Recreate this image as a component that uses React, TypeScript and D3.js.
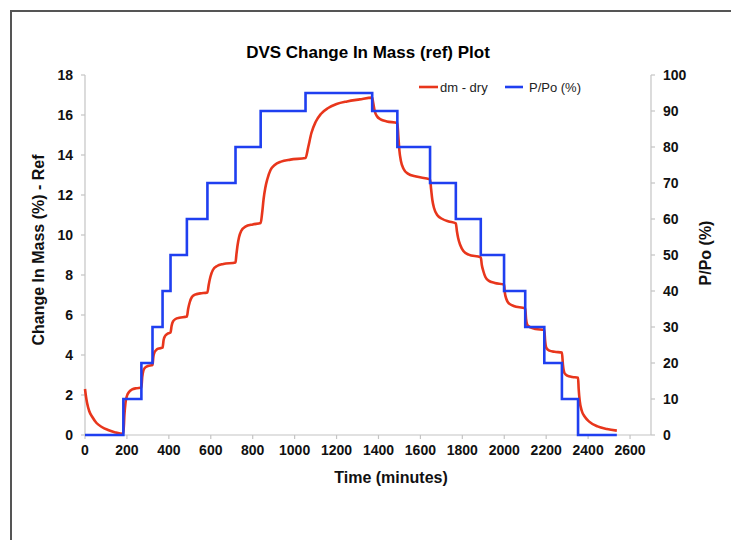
import React from "react";
import * as d3 from "d3";

// P/Po (%) step profile: time (min) at which each step begins, and its value
const stepTimes = [0, 183, 269, 322, 370, 408, 486, 584, 718, 838, 1052, 1370, 1490, 1646, 1769, 1888, 1999, 2100, 2191, 2275, 2352, 2537];
const stepValues = [0, 10, 20, 30, 40, 50, 60, 70, 80, 90, 95, 90, 80, 70, 60, 50, 40, 30, 20, 10, 0, 0];

// dm - dry (%) curve
const massTimes = [
  0, 5, 10, 20, 35, 55, 80, 110, 145, 183,
  188, 193, 200, 210, 225, 245, 269,
  273, 278, 285, 300, 322,
  326, 332, 342, 355, 370,
  375, 382, 392, 408,
  413, 420, 432, 450, 486,
  492, 500, 510, 525, 550, 584,
  590, 598, 610, 630, 660, 718,
  722, 728, 735, 745, 765, 800, 838,
  845, 852, 860, 870, 885, 905, 935, 980, 1052,
  1065, 1080, 1100, 1125, 1160, 1200, 1250, 1310, 1370,
  1375, 1382, 1392, 1410, 1440, 1490,
  1495, 1500, 1507, 1520, 1540, 1580, 1646,
  1651, 1657, 1665, 1680, 1705, 1735, 1769,
  1774, 1780, 1790, 1805, 1830, 1888,
  1893, 1900, 1910, 1925, 1955, 1999,
  2003, 2010, 2022, 2045, 2100,
  2104, 2110, 2125, 2150, 2191,
  2195, 2201, 2215, 2240, 2275,
  2280, 2287, 2300, 2325, 2352,
  2355, 2360, 2370, 2385, 2405, 2445, 2490, 2537,
];
const massValues = [
  2.3, 1.9, 1.6, 1.2, 0.9, 0.6, 0.4, 0.25, 0.13, 0.06,
  1.0, 1.6, 1.95, 2.15, 2.28, 2.34, 2.37,
  2.9, 3.2, 3.35, 3.45, 3.5,
  3.9, 4.15, 4.27, 4.33, 4.37,
  4.75, 4.95, 5.05, 5.12,
  5.45, 5.68, 5.8, 5.86, 5.92,
  6.3, 6.65, 6.9, 7.02, 7.08, 7.13,
  7.5, 7.9, 8.25, 8.45, 8.55, 8.63,
  9.0, 9.5, 9.9, 10.2, 10.42, 10.53, 10.6,
  11.1, 11.8, 12.35, 12.8, 13.25, 13.5, 13.67, 13.77, 13.85,
  14.4, 15.1, 15.65, 16.05, 16.35, 16.55, 16.68, 16.78, 16.87,
  16.6, 16.2, 15.95, 15.78, 15.68, 15.6,
  14.9, 14.2, 13.7, 13.3, 13.07, 12.92, 12.78,
  12.3, 11.75, 11.35, 11.0, 10.8, 10.68, 10.58,
  10.2, 9.85, 9.5, 9.2, 9.02, 8.88,
  8.5, 8.2, 7.9, 7.72, 7.6, 7.52,
  7.1, 6.8, 6.58, 6.45, 6.33,
  5.8, 5.5, 5.38, 5.3, 5.25,
  4.7, 4.35, 4.22, 4.16, 4.12,
  3.5, 3.1, 2.97, 2.9, 2.86,
  2.3, 1.7, 1.2, 0.9, 0.67, 0.43, 0.3, 0.22,
];

const xTicks = [0, 200, 400, 600, 800, 1000, 1200, 1400, 1600, 1800, 2000, 2200, 2400, 2600];
const yLeftTicks = [0, 2, 4, 6, 8, 10, 12, 14, 16, 18];
const yRightTicks = [0, 10, 20, 30, 40, 50, 60, 70, 80, 90, 100];

const W = 731;
const H = 540;
const X0 = 85;
const X1 = 651;
const Y0 = 435;
const Y1 = 75;

const FONT = "'Liberation Sans', Arial, sans-serif";
const RED = "#e8361c";
const BLUE = "#1f3ff0";
const AXIS = "#c4c4c4";

export default function App() {
  const x = d3.scaleLinear().domain([0, 2700]).range([X0, X1]);
  const yL = d3.scaleLinear().domain([0, 18]).range([Y0, Y1]);
  const yR = d3.scaleLinear().domain([0, 100]).range([Y0, Y1]);

  const stepPts = stepTimes.map((t, i) => [t, stepValues[i]] as [number, number]);
  const massPts = massTimes.map((t, i) => [t, massValues[i]] as [number, number]);

  const stepLine = d3
    .line<[number, number]>()
    .x((d) => x(d[0]))
    .y((d) => yR(d[1]))
    .curve(d3.curveStepAfter);
  const massLine = d3
    .line<[number, number]>()
    .x((d) => x(d[0]))
    .y((d) => yL(d[1]))
    .curve(d3.curveMonotoneX);

  return (
    <svg
      width={W}
      height={H}
      style={{ position: "absolute", left: 0, top: 0, background: "#fff" }}
      fontFamily={FONT}
    >
      <rect x={11} y={11} width={760} height={600} fill="#fff" stroke="#555" strokeWidth={2} />

      <text x={368} y={58} textAnchor="middle" fontSize={17} fontWeight="bold" fill="#000">
        DVS Change In Mass (ref) Plot
      </text>

      {/* axes */}
      <line x1={X0} x2={X0} y1={Y1} y2={Y0} stroke={AXIS} strokeWidth={1.2} />
      <line x1={X1} x2={X1} y1={Y1} y2={Y0} stroke={AXIS} strokeWidth={1.2} />
      <line x1={X0} x2={X1} y1={Y0} y2={Y0} stroke={AXIS} strokeWidth={1.2} />

      {xTicks.map((t) => (
        <g key={"x" + t}>
          <line x1={x(t)} x2={x(t)} y1={Y0} y2={Y0 + 4} stroke={AXIS} strokeWidth={1.2} />
          <text x={x(t)} y={Y0 + 20} textAnchor="middle" fontSize={14} fontWeight="bold" fill="#111">
            {t}
          </text>
        </g>
      ))}
      {yLeftTicks.map((v) => (
        <g key={"yl" + v}>
          <line x1={X0 - 4} x2={X0} y1={yL(v)} y2={yL(v)} stroke={AXIS} strokeWidth={1.2} />
          <text x={X0 - 12} y={yL(v) + 5} textAnchor="end" fontSize={14} fontWeight="bold" fill="#111">
            {v}
          </text>
        </g>
      ))}
      {yRightTicks.map((v) => (
        <g key={"yr" + v}>
          <line x1={X1} x2={X1 + 4} y1={yR(v)} y2={yR(v)} stroke={AXIS} strokeWidth={1.2} />
          <text x={X1 + 12} y={yR(v) + 5} textAnchor="start" fontSize={14} fontWeight="bold" fill="#111">
            {v}
          </text>
        </g>
      ))}

      {/* series */}
      <path d={massLine(massPts) || ""} fill="none" stroke={RED} strokeWidth={2.6} />
      <path d={stepLine(stepPts) || ""} fill="none" stroke={BLUE} strokeWidth={2.6} />

      {/* axis titles */}
      <text x={391} y={483} textAnchor="middle" fontSize={16} fontWeight="bold" fill="#111">
        Time (minutes)
      </text>
      <text
        transform="translate(44,250) rotate(-90)"
        textAnchor="middle"
        fontSize={16}
        fontWeight="bold"
        fill="#111"
      >
        Change In Mass (%) - Ref
      </text>
      <text
        transform="translate(711,253) rotate(-90)"
        textAnchor="middle"
        fontSize={16}
        fontWeight="bold"
        fill="#111"
      >
        P/Po (%)
      </text>

      {/* legend */}
      <line x1={419} x2={438} y1={87} y2={87} stroke={RED} strokeWidth={2.6} />
      <text x={440} y={92} fontSize={13} fill="#222">
        dm - dry
      </text>
      <line x1={505} x2={523} y1={87} y2={87} stroke={BLUE} strokeWidth={2.6} />
      <text x={529} y={92} fontSize={13} fill="#222">
        P/Po (%)
      </text>
    </svg>
  );
}
